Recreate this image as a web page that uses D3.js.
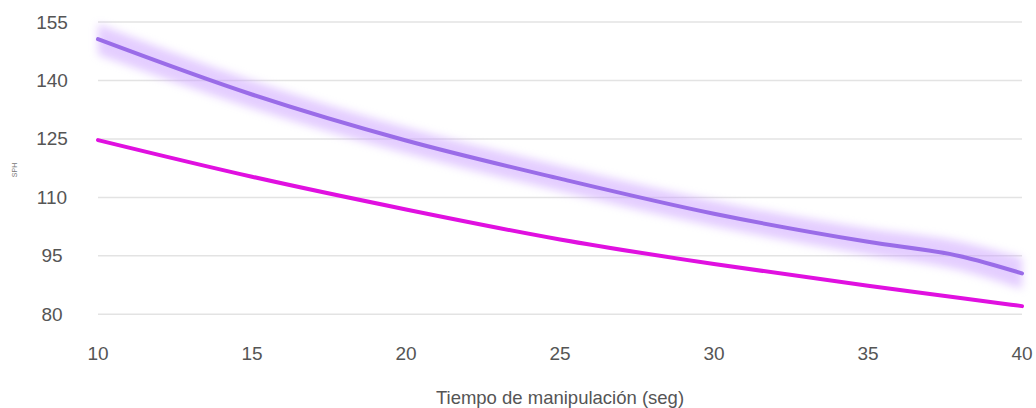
<!DOCTYPE html>
<html>
<head>
<meta charset="utf-8">
<script src="https://cdn.jsdelivr.net/npm/d3@7/dist/d3.min.js"></script>
<style>
  html, body { margin: 0; padding: 0; background: #fff; }
  svg { display: block; font-family: "Liberation Sans", Arial, sans-serif; }
</style>
</head>
<body>
<svg id="chart" width="1036" height="408"></svg>
<script>
const xValues      = [10, 15, 20, 25, 30, 35, 38, 40];
const purpleValues = [150.6, 136.4, 124.6, 114.8, 105.8, 98.6, 94.9, 90.5];
const purpleLower  = [146.6, 132.9, 121.3, 111.6, 102.6, 95.3, 91.3, 86.5];
const purpleUpper  = [154.5, 140.0, 127.9, 118.1, 109.1, 102.0, 98.6, 94.5];
const magentaValues = [124.7, 115.3, 106.9, 99.2, 92.9, 87.3, 84.2, 82.1];
const xTicks = [10, 15, 20, 25, 30, 35, 40];
const yTicks = [80, 95, 110, 125, 140, 155];
const xTitle = "Tiempo de manipulación (seg)";
const yTitle = "SPH";

const svg = d3.select("#chart");
const x = d3.scaleLinear().domain([10, 40]).range([98, 1022]);
const y = d3.scaleLinear().domain([80, 155]).range([314.3, 22]);

// gridlines
svg.append("g").selectAll("line").data(yTicks).join("line")
  .attr("x1", x(10)).attr("x2", x(40))
  .attr("y1", d => y(d)).attr("y2", d => y(d))
  .attr("stroke", "#e3e3e3").attr("stroke-width", 1.5);

// y tick labels
svg.append("g").selectAll("text").data(yTicks).join("text")
  .attr("x", 52).attr("y", d => y(d))
  .attr("text-anchor", "middle").attr("dominant-baseline", "central")
  .attr("font-size", 19).attr("fill", "#555")
  .text(d => d);

// x tick labels
svg.append("g").selectAll("text").data(xTicks).join("text")
  .attr("x", d => x(d)).attr("y", 353)
  .attr("text-anchor", "middle").attr("dominant-baseline", "central")
  .attr("font-size", 19).attr("fill", "#555")
  .text(d => d);

// axis titles
svg.append("text").attr("x", 560).attr("y", 397)
  .attr("text-anchor", "middle").attr("dominant-baseline", "central")
  .attr("font-size", 18.5).attr("fill", "#555").text(xTitle);
svg.append("text").attr("transform", "translate(14,170) rotate(-90)")
  .attr("text-anchor", "middle").attr("dominant-baseline", "central")
  .attr("font-size", 7).attr("fill", "#777").text(yTitle);

// blur filter for band
const defs = svg.append("defs");
defs.append("filter").attr("id", "blur").attr("x", "-5%").attr("y", "-20%").attr("width", "110%").attr("height", "140%")
  .append("feGaussianBlur").attr("stdDeviation", 4);

const band = xValues.map((d, i) => ({x: d, lo: purpleLower[i], hi: purpleUpper[i]}));
const area = d3.area().x(d => x(d.x)).y0(d => y(d.lo)).y1(d => y(d.hi)).curve(d3.curveMonotoneX);
svg.append("path").datum(band).attr("d", area)
  .attr("fill", "#c99cff").attr("opacity", 0.5).attr("filter", "url(#blur)");

const line = d3.line().x(d => x(d[0])).y(d => y(d[1])).curve(d3.curveMonotoneX);
svg.append("path").datum(xValues.map((d, i) => [d, purpleValues[i]])).attr("d", line)
  .attr("fill", "none").attr("stroke", "#9a6ce8").attr("stroke-width", 4).attr("stroke-linecap", "round");
svg.append("path").datum(xValues.map((d, i) => [d, magentaValues[i]])).attr("d", line)
  .attr("fill", "none").attr("stroke", "#e010e0").attr("stroke-width", 4).attr("stroke-linecap", "round");
</script>
</body>
</html>
